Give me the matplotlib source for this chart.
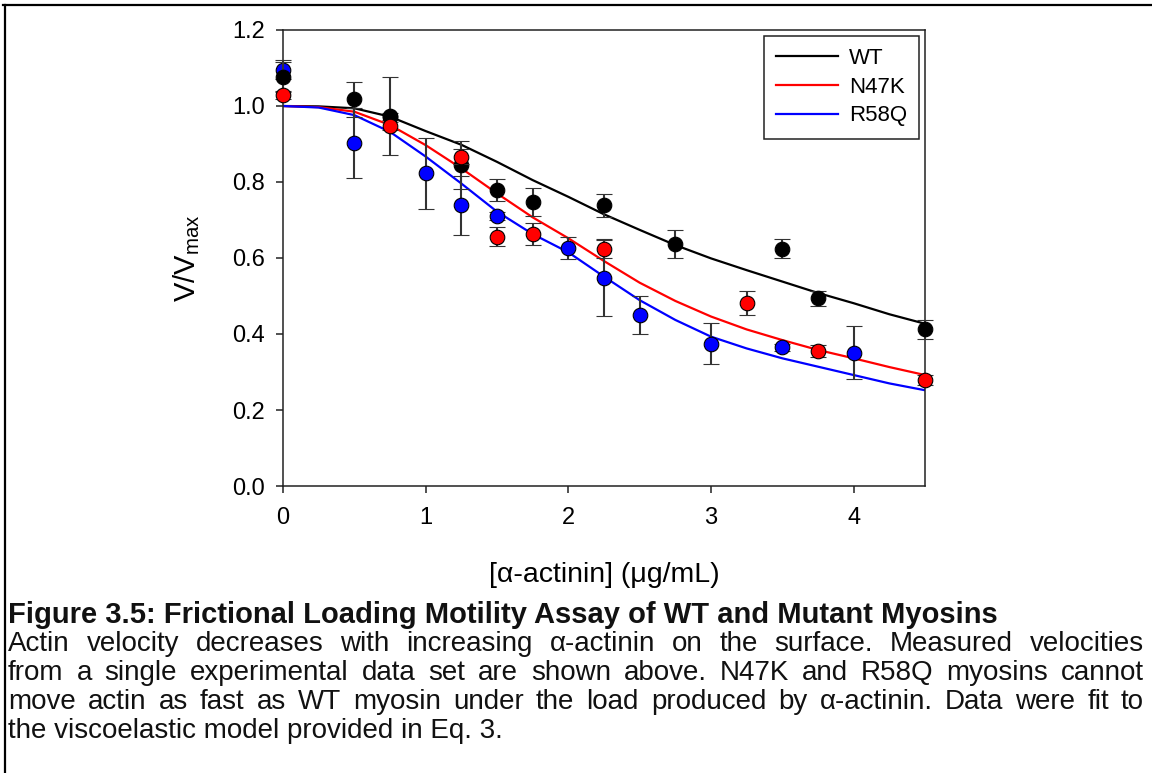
import numpy as np
import matplotlib.pyplot as plt
from matplotlib.lines import Line2D

plt.rcParams['font.family'] = ['Liberation Sans', 'DejaVu Sans']
plt.rcParams['mathtext.fontset'] = 'custom'
plt.rcParams['mathtext.rm'] = 'Liberation Sans'
plt.rcParams['mathtext.it'] = 'Liberation Sans:italic'

# measured points (alpha-actinin ug/mL, V/Vmax, error)
wt_x = [0, 0.5, 0.75, 1.25, 1.5, 1.75, 2.25, 2.75, 3.5, 3.75, 4.5]
wt_y = [1.077, 1.018, 0.974, 0.845, 0.779, 0.748, 0.739, 0.636, 0.625, 0.494, 0.413]
wt_err = [0.04, 0.046, 0.103, 0.064, 0.03, 0.037, 0.03, 0.037, 0.026, 0.02, 0.025]

n47k_x = [0, 0.75, 1.25, 1.5, 1.75, 2.25, 3.25, 3.75, 4.5]
n47k_y = [1.029, 0.947, 0.867, 0.656, 0.663, 0.624, 0.481, 0.355, 0.279]
n47k_err = [0.01, 0.01, 0.02, 0.025, 0.03, 0.025, 0.032, 0.015, 0.013]

r58q_x = [0, 0.5, 0.75, 1.0, 1.25, 1.5, 2.0, 2.25, 2.5, 3.0, 3.5, 4.0]
r58q_y = [1.095, 0.902, 0.972, 0.823, 0.739, 0.711, 0.627, 0.548, 0.45, 0.375, 0.365, 0.351]
r58q_err = [0.025, 0.092, 0.01, 0.094, 0.078, 0.01, 0.029, 0.10, 0.05, 0.054, 0.01, 0.07]

# fitted curves
fit_x = [0, 0.25, 0.5, 0.75, 1.0, 1.25, 1.5, 1.75, 2.0, 2.25, 2.5, 2.75,
         3.0, 3.25, 3.5, 3.75, 4.0, 4.25, 4.5]
fit_wt = [1.0, 0.999, 0.994, 0.972, 0.934, 0.898, 0.853, 0.805, 0.761, 0.715, 0.674, 0.634,
          0.599, 0.568, 0.538, 0.508, 0.481, 0.452, 0.427]
fit_n47k = [1.0, 0.997, 0.985, 0.95, 0.897, 0.836, 0.77, 0.707, 0.652, 0.592, 0.535, 0.487,
            0.446, 0.412, 0.384, 0.358, 0.336, 0.313, 0.292]
fit_r58q = [1.0, 0.996, 0.976, 0.932, 0.867, 0.796, 0.722, 0.663, 0.615, 0.551, 0.489, 0.437,
            0.393, 0.362, 0.336, 0.314, 0.292, 0.27, 0.252]

fig = plt.figure(figsize=(11.52, 7.73), dpi=100)
W, H = 1152, 773
ax = fig.add_axes([283 / W, 1 - 486 / H, (925 - 283) / W, (486 - 30) / H])

ax.plot(fit_x, fit_wt, color='black', lw=1.6, label='WT', zorder=2)
ax.plot(fit_x, fit_n47k, color='#ff0000', lw=1.6, label='N47K', zorder=2)
ax.plot(fit_x, fit_r58q, color='#0000ff', lw=1.6, label='R58Q', zorder=2)

for xs, ys, es, c, z in [(r58q_x, r58q_y, r58q_err, '#0000ff', 3),
                         (wt_x, wt_y, wt_err, 'black', 4),
                         (n47k_x, n47k_y, n47k_err, '#ff0000', 5)]:
    ax.errorbar(xs, ys, yerr=es, fmt='o', color='#333333', ecolor='#333333',
                elinewidth=1.5, capsize=5.5, capthick=1.5, markersize=10.5,
                markerfacecolor=c, markeredgecolor='black', markeredgewidth=0.8,
                zorder=z, clip_on=False)

ax.set_xlim(0, 4.5)
ax.set_ylim(0, 1.2)
ax.set_xticks([0, 1, 2, 3, 4])
ax.set_yticks([0, 0.2, 0.4, 0.6, 0.8, 1.0, 1.2])
ax.set_yticklabels(['0.0', '0.2', '0.4', '0.6', '0.8', '1.0', '1.2'])
ax.tick_params(direction='out', length=5, width=1.1, labelsize=17, color='#222222')
ax.tick_params(axis='x', pad=10)
ax.tick_params(axis='y', pad=8)
for s in ax.spines.values():
    s.set_linewidth(1.1)
    s.set_color('#222222')

ax.set_xlabel('[\u03b1-actinin] (\u03bcg/mL)', fontsize=20.5, labelpad=24)
ax.set_ylabel('V/V$_{\\mathrm{max}}$', fontsize=21, labelpad=22)

leg = ax.legend(loc='upper right', bbox_to_anchor=(1, 1), borderaxespad=0.25,
                fontsize=16, handlelength=2.8, handletextpad=0.5, labelspacing=0.35,
                fancybox=False, framealpha=1, borderpad=0.55)
leg.get_frame().set_edgecolor('#222222')
leg.get_frame().set_linewidth(1.1)

# page border (top and left)
fig.add_artist(Line2D([3 / W, 1], [1 - 5 / H, 1 - 5 / H], color='black', lw=1.6))
fig.add_artist(Line2D([5 / W, 5 / W], [0, 1 - 5 / H], color='black', lw=1.6))

# caption
caption = [
    "Actin velocity decreases with increasing \u03b1-actinin on the surface. Measured velocities",
    "from a single experimental data set are shown above. N47K and R58Q myosins cannot",
    "move actin as fast as WT myosin under the load produced by \u03b1-actinin. Data were fit to",
]
fig.text(8 / W, 1 - 623 / H, 'Figure 3.5: Frictional Loading Motility Assay of WT and Mutant Myosins',
         fontsize=21, fontweight='bold', va='baseline', color='#111111')

renderer = fig.canvas.get_renderer()
left, right = 8, 1144
for i, line in enumerate(caption):
    y = 1 - (651 + 29 * i) / H
    objs = [fig.text(0, y, w, fontsize=20, va='baseline', color='#111111')
            for w in line.split(' ')]
    widths = [o.get_window_extent(renderer).width for o in objs]
    gap = (right - left - sum(widths)) / (len(objs) - 1)
    xpos = left
    for o, w in zip(objs, widths):
        o.set_x(xpos / W)
        xpos += w + gap
fig.text(8 / W, 1 - (651 + 29 * 3) / H, 'the viscoelastic model provided in Eq. 3.',
         fontsize=20, va='baseline', color='#111111')

fig.savefig('out.png', dpi=100)
